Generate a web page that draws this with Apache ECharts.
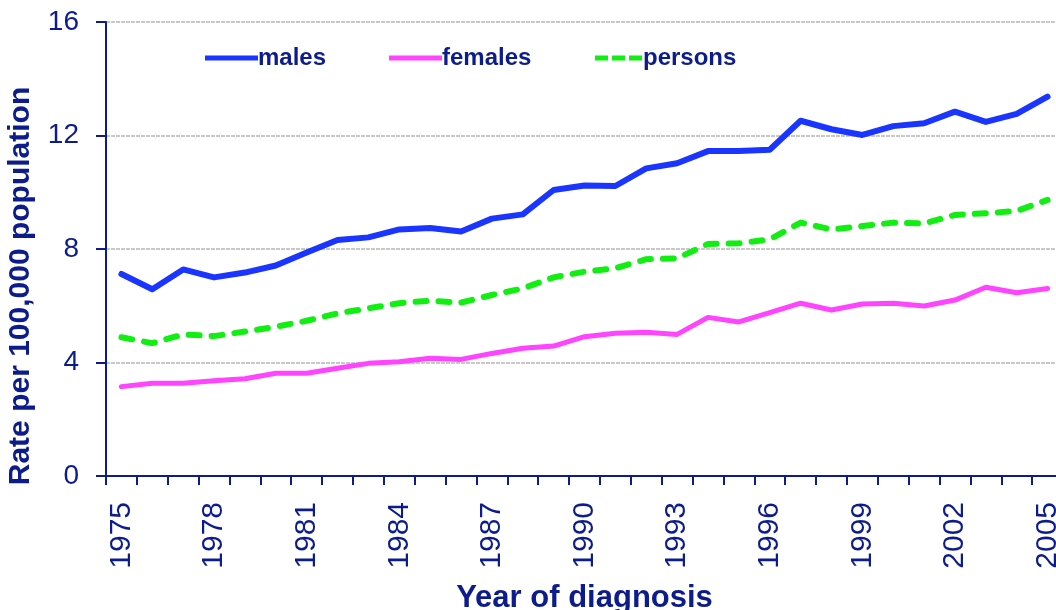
<!DOCTYPE html>
<html>
<head>
<meta charset="utf-8">
<script src="https://cdn.jsdelivr.net/npm/echarts@6/dist/echarts.min.js"></script>
<style>
  html, body { margin: 0; padding: 0; background: #fff; }
  #chart { width: 1056px; height: 610px; }
</style>
</head>
<body>
<div id="chart"></div>
<script>
'use strict';
// 年份
var years = ['1975', '1976', '1977', '1978', '1979', '1980', '1981', '1982', '1983', '1984',
    '1985', '1986', '1987', '1988', '1989', '1990', '1991', '1992', '1993', '1994',
    '1995', '1996', '1997', '1998', '1999', '2000', '2001', '2002', '2003', '2004', '2005'];
// 各组比率
var males = [7.12, 6.58, 7.28, 7.0, 7.17, 7.42, 7.88, 8.32, 8.41, 8.69,
    8.74, 8.62, 9.07, 9.22, 10.08, 10.24, 10.22, 10.84, 11.02, 11.45,
    11.45, 11.5, 12.52, 12.22, 12.02, 12.33, 12.43, 12.84, 12.48, 12.76, 13.37];
var females = [3.15, 3.27, 3.27, 3.36, 3.43, 3.62, 3.62, 3.8, 3.97, 4.03,
    4.15, 4.11, 4.32, 4.5, 4.58, 4.91, 5.03, 5.07, 4.99, 5.59,
    5.43, 5.76, 6.09, 5.85, 6.06, 6.09, 5.99, 6.2, 6.65, 6.46, 6.61];
var persons = [4.89, 4.68, 4.99, 4.93, 5.09, 5.26, 5.47, 5.73, 5.91, 6.09,
    6.18, 6.11, 6.38, 6.61, 7.0, 7.2, 7.32, 7.64, 7.67, 8.18,
    8.2, 8.34, 8.93, 8.69, 8.81, 8.93, 8.9, 9.2, 9.26, 9.34, 9.73];

var navy = '#0d1c8c';
var font = 'Liberation Sans, Arial, sans-serif';
var solidIcon = 'path://M0,0h53v5h-53z';
var dashIcon = 'path://M0,0h13v5h-13zM17,0h13v5h-13zM34,0h13v5h-13z';

/**
 * [图例]
 * @param  {[type]} name [系列名]
 * @param  {[type]} left [位置]
 */
function legendAt(name, left, icon, w) {
    return {
        data: [{ name: name, icon: icon }],
        left: left,
        top: 41,
        itemWidth: w,
        itemHeight: 5,
        textStyle: { color: navy, fontSize: 24, fontWeight: 'bold', fontFamily: font, padding: [0, 0, 0, -5] }
    };
}

var myChart = echarts.init(document.getElementById('chart'));
var option = {
    backgroundColor: '#fff',
    animation: false,
    legend: [
        legendAt('males', 200, solidIcon, 53),
        legendAt('females', 384, solidIcon, 53),
        legendAt('persons', 590, dashIcon, 49)
    ],
    grid: { left: 106, top: 22, width: 957, height: 454, outerBoundsMode: 'none' },
    xAxis: {
        type: 'category',
        data: years,
        boundaryGap: true,
        name: 'Year of diagnosis',
        nameLocation: 'middle',
        nameGap: 107,
        nameTextStyle: { color: navy, fontSize: 31, fontWeight: 'bold', fontFamily: font },
        axisLine: { lineStyle: { color: navy, width: 2 } },
        axisTick: { show: true, interval: 0, length: 9, lineStyle: { color: navy, width: 2 } },
        axisLabel: { interval: 2, rotate: 90, color: navy, fontSize: 30, fontFamily: font, margin: 26 },
        splitLine: { show: false }
    },
    yAxis: {
        type: 'value',
        min: 0,
        max: 16,
        interval: 4,
        name: 'Rate per 100,000 population',
        nameLocation: 'middle',
        nameGap: 70,
        nameTextStyle: { color: navy, fontSize: 30, fontWeight: 'bold', fontFamily: font, padding: [0, 74, 0, 0] },
        axisLine: { show: true, lineStyle: { color: navy, width: 2 } },
        axisTick: { show: true, length: 10, lineStyle: { color: navy, width: 2 } },
        axisLabel: { color: navy, fontSize: 28, fontFamily: font, margin: 27 },
        splitLine: { lineStyle: { color: '#c8c8c8', width: 2, type: [4, 1] } }
    },
    series: [{
        name: 'males',
        type: 'line',
        data: males,
        symbol: 'none',
        color: '#1a35ff',
        lineStyle: { width: 6, color: '#1a35ff', cap: 'round', join: 'round' }
    }, {
        name: 'females',
        type: 'line',
        data: females,
        symbol: 'none',
        color: '#ff44ff',
        lineStyle: { width: 5, color: '#ff44ff', cap: 'round', join: 'round' }
    }, {
        name: 'persons',
        type: 'line',
        data: persons,
        symbol: 'none',
        color: '#11ee11',
        lineStyle: { width: 6, color: '#11ee11', type: [11, 12], cap: 'round', join: 'round' }
    }]
};
myChart.setOption(option);
</script>
</body>
</html>
